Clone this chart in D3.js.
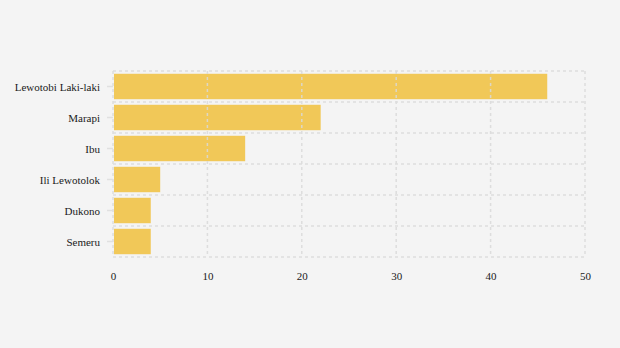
<!DOCTYPE html>
<html>
<head>
<meta charset="utf-8">
<script src="https://cdn.jsdelivr.net/npm/d3@7"></script>
<style>
  html, body { margin: 0; padding: 0; background: #f4f4f4; }
  svg { display: block; }
  text { font-family: "Liberation Serif", "Times New Roman", serif; fill: #1a1a1a; }
</style>
</head>
<body>
<svg id="chart" width="620" height="348"></svg>
<script>
const volcanoes = ["Lewotobi Laki-laki", "Marapi", "Ibu", "Ili Lewotolok", "Dukono", "Semeru"];
const eruptions = [46, 22, 14, 5, 4, 4];
const xTicks = [0, 10, 20, 30, 40, 50];

const margin = { top: 71, right: 35, bottom: 91, left: 113 };
const width = 620, height = 348;
const svg = d3.select("#chart");

const x = d3.scaleLinear().domain([0, 50]).range([margin.left, width - margin.right]);
const y = d3.scaleBand().domain(volcanoes).range([margin.top, height - margin.bottom]).paddingInner(0.18).paddingOuter(0.09);

// band boundaries for horizontal grid lines
const bandEdges = d3.range(volcanoes.length + 1).map(i => margin.top + i * ((height - margin.bottom - margin.top) / volcanoes.length));

const grid = svg.append("g").attr("stroke", "#dadada").attr("stroke-width", 1.5).attr("stroke-dasharray", "3,3").attr("fill", "none");

// bars
svg.append("g").selectAll("rect").data(volcanoes).join("rect")
  .attr("x", x(0) + 1)
  .attr("y", d => y(d))
  .attr("width", (d, i) => x(eruptions[i]) - x(0) - 1)
  .attr("height", y.bandwidth())
  .attr("fill", "#f0c34a")
  .attr("fill-opacity", 0.92);

// grid on top, faint
grid.raise();
grid.selectAll("line.v").data(xTicks).join("line").attr("class", "v")
  .attr("x1", d => x(d)).attr("x2", d => x(d))
  .attr("y1", margin.top).attr("y2", height - margin.bottom);
grid.selectAll("line.h").data(bandEdges).join("line").attr("class", "h")
  .attr("x1", margin.left).attr("x2", width - margin.right)
  .attr("y1", d => d).attr("y2", d => d);
grid.attr("opacity", 0.85);

// y axis labels and ticks
const yAxis = d3.axisLeft(y).tickSize(6).tickPadding(7);
const gy = svg.append("g").attr("transform", `translate(${margin.left},0)`).call(yAxis);
gy.select(".domain").remove();
gy.selectAll(".tick line").attr("stroke", "#e0e0e0").attr("stroke-width", 1.5);
gy.selectAll(".tick text").attr("font-size", 11).attr("dy", "0.38em");

// x axis labels
const xAxis = d3.axisBottom(x).tickValues(xTicks).tickSize(0).tickPadding(15);
const gx = svg.append("g").attr("transform", `translate(0,${height - margin.bottom})`).call(xAxis);
gx.select(".domain").remove();
gx.selectAll(".tick text").attr("font-size", 11);
</script>
</body>
</html>
